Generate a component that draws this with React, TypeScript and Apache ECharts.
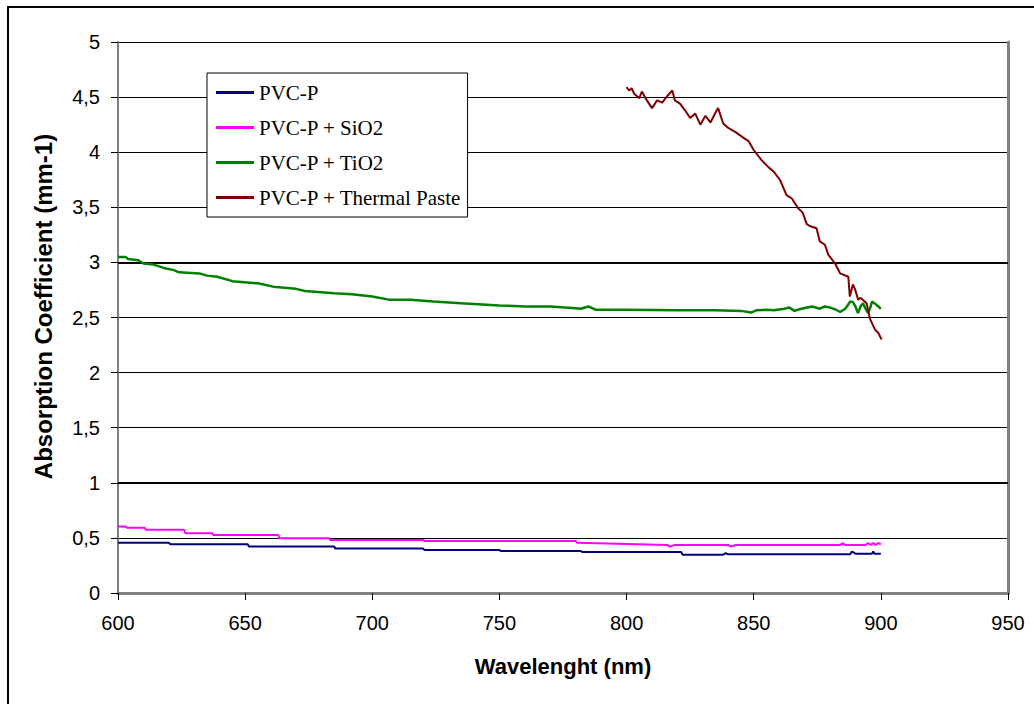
import React, { useEffect, useRef } from "react";
import * as echarts from "echarts";

const seriesNames = ["PVC-P", "PVC-P + SiO2", "PVC-P + TiO2", "PVC-P + Thermal Paste"];
const seriesColors = ["#000080", "#FF00FF", "#008000", "#800000"];

const pvcWl = [600, 620, 620.5, 651, 651.5, 685, 685.5, 720, 720.5, 750, 750.5, 782, 782.5, 821.5, 822, 838, 839, 840, 888, 888.5, 889.5, 890, 896.5, 897, 897.5, 900];
const pvcVal = [0.456, 0.456, 0.443, 0.443, 0.421, 0.421, 0.403, 0.403, 0.391, 0.391, 0.381, 0.381, 0.371, 0.371, 0.348, 0.348, 0.361, 0.351, 0.351, 0.376, 0.366, 0.356, 0.356, 0.376, 0.356, 0.356];

const sioWl = [600, 603, 603.5, 610.5, 611, 626, 626.5, 637, 637.5, 663, 663.5, 683, 683.5, 720, 720.5, 780, 780.5, 816, 817, 819, 840, 841, 843, 884, 885, 886, 894, 895, 896, 897, 898, 899, 900];
const sioVal = [0.603, 0.603, 0.591, 0.591, 0.573, 0.573, 0.543, 0.543, 0.526, 0.526, 0.496, 0.496, 0.482, 0.482, 0.473, 0.473, 0.456, 0.436, 0.421, 0.436, 0.436, 0.421, 0.436, 0.436, 0.451, 0.436, 0.436, 0.454, 0.436, 0.454, 0.436, 0.454, 0.441];

const tioWl = [600, 603, 604, 608, 610, 614, 618, 622, 624, 632, 635, 639, 645, 655, 661, 670, 673.5, 685, 692, 700, 707, 715, 724, 735, 750, 760, 770, 780, 782, 785, 788, 800, 820, 835, 845, 849, 851, 855, 858, 862, 864, 866, 868, 871, 873, 876, 878, 880, 882, 884, 886, 888, 889, 890, 891, 892, 893, 894, 895, 896, 896.5, 898, 899, 900];
const tioVal = [3.05, 3.05, 3.03, 3.02, 2.99, 2.98, 2.95, 2.93, 2.91, 2.9, 2.88, 2.87, 2.83, 2.81, 2.78, 2.76, 2.74, 2.72, 2.71, 2.69, 2.66, 2.66, 2.645, 2.63, 2.61, 2.6, 2.6, 2.585, 2.58, 2.6, 2.57, 2.57, 2.565, 2.565, 2.56, 2.545, 2.565, 2.57, 2.565, 2.58, 2.59, 2.56, 2.575, 2.59, 2.6, 2.58, 2.6, 2.59, 2.575, 2.55, 2.58, 2.645, 2.64, 2.6, 2.54, 2.6, 2.63, 2.58, 2.54, 2.6, 2.645, 2.62, 2.6, 2.58];

const pasteWl = [800, 801, 802, 803, 805, 806, 808, 810, 812, 814, 816, 818, 819, 821, 823, 825, 827, 829, 831, 833, 835, 836, 838, 840, 843, 846, 848, 850, 853, 856, 858, 860.3, 862.9, 865, 867.5, 869.3, 870.8, 872, 874.7, 876, 878, 879.3, 882, 884, 887.2, 887.8, 889, 889.8, 891.1, 892, 894.4, 895.7, 897.7, 899, 900.3];
const pasteVal = [4.59, 4.56, 4.58, 4.53, 4.49, 4.55, 4.47, 4.4, 4.47, 4.45, 4.51, 4.56, 4.47, 4.44, 4.38, 4.31, 4.35, 4.25, 4.33, 4.27, 4.36, 4.4, 4.26, 4.22, 4.18, 4.13, 4.1, 4.02, 3.93, 3.86, 3.82, 3.75, 3.61, 3.58, 3.49, 3.45, 3.35, 3.33, 3.31, 3.19, 3.16, 3.07, 2.99, 2.9, 2.87, 2.69, 2.8, 2.76, 2.66, 2.68, 2.63, 2.49, 2.39, 2.36, 2.3];

const seriesWl = [pvcWl, sioWl, tioWl, pasteWl];
const seriesVal = [pvcVal, sioVal, tioVal, pasteVal];
const seriesWidths = [2, 2, 2.5, 2];

const xMin = 600, xMax = 950, xStep = 50;
const yMin = 0, yMax = 5, yStep = 0.5;
const emphasizedGrid = [3, 1];

const xTitle = "Wavelenght (nm)";
const yTitle = "Absorption Coefficient (mm-1)";

export default function App() {
  const ref = useRef<HTMLDivElement>(null);
  useEffect(() => {
    if (!ref.current) return;
    const chart = echarts.init(ref.current, null, { renderer: "svg" });
    const sans = "'Liberation Sans', Arial, sans-serif";
    const series: any[] = seriesNames.map((name, i) => ({
      name,
      type: "line",
      data: seriesWl[i].map((w, j) => [w, seriesVal[i][j]]),
      symbol: "none",
      lineStyle: { color: seriesColors[i], width: seriesWidths[i] },
      itemStyle: { color: seriesColors[i] },
      z: 3 + i,
    }));
    series[0].markLine = {
      silent: true,
      symbol: ["none", "none"],
      label: { show: false },
      lineStyle: { color: "#000", width: 2, type: "solid" },
      data: emphasizedGrid.map((v) => ({ yAxis: v })),
      z: 1,
    };
    chart.setOption({
      animation: false,
      backgroundColor: "#fff",
      grid: { left: 118, right: 26, top: 42, bottom: 111 },
      graphic: [
        {
          type: "rect",
          shape: { x: 8, y: 7, width: 1200, height: 900 },
          style: { fill: "none", stroke: "#000", lineWidth: 2 },
          silent: true,
        },
      ],
      legend: {
        orient: "vertical",
        left: 207,
        top: 73,
        padding: [9, 6, 9, 9],
        itemWidth: 38,
        itemHeight: 3,
        itemGap: 14,
        icon: "rect",
        backgroundColor: "#fff",
        borderColor: "#000",
        borderWidth: 1,
        textStyle: { fontFamily: "'Liberation Serif', 'Times New Roman', serif", fontSize: 21, lineHeight: 19, color: "#000" },
        data: seriesNames,
        z: 10,
      },
      xAxis: [
        {
          type: "value",
          min: xMin,
          max: xMax,
          interval: xStep,
          position: "bottom",
          name: xTitle,
          nameLocation: "middle",
          nameGap: 62,
          nameTextStyle: { fontFamily: sans, fontSize: 22, fontWeight: "bold", color: "#000" },
          axisLine: { lineStyle: { color: "#000", width: 1.5 } },
          axisTick: { show: true, length: 7, lineStyle: { color: "#000" } },
          axisLabel: { margin: 20, fontFamily: sans, fontSize: 20, color: "#000" },
          splitLine: { show: false },
        },
        {
          type: "value",
          min: xMin,
          max: xMax,
          position: "top",
          axisLine: { show: true, lineStyle: { color: "#808080", width: 3 } },
          axisTick: { show: false },
          axisLabel: { show: false },
          splitLine: { show: false },
        },
      ],
      yAxis: [
        {
          type: "value",
          min: yMin,
          max: yMax,
          interval: yStep,
          position: "left",
          name: yTitle,
          nameLocation: "middle",
          nameGap: 63,
          nameTextStyle: { fontFamily: sans, fontSize: 24, fontWeight: "bold", color: "#000", padding: [0, 0, 0, 22] },
          axisLine: { show: true, lineStyle: { color: "#808080", width: 2 } },
          axisTick: { show: true, length: 7, inside: false, lineStyle: { color: "#000" } },
          axisLabel: {
            margin: 18,
            fontFamily: sans,
            fontSize: 20,
            color: "#000",
            formatter: (v: number) => String(v).replace(".", ","),
          },
          splitLine: { show: true, lineStyle: { color: "#000", width: 1 } },
        },
        {
          type: "value",
          min: yMin,
          max: yMax,
          position: "right",
          axisLine: { show: true, lineStyle: { color: "#808080", width: 3 } },
          axisTick: { show: false },
          axisLabel: { show: false },
          splitLine: { show: false },
        },
      ],
      series,
    });
    return () => chart.dispose();
  }, []);
  return (
    <div
      ref={ref}
      style={{ position: "absolute", left: 0, top: 0, width: 1034, height: 704 }}
    />
  );
}
